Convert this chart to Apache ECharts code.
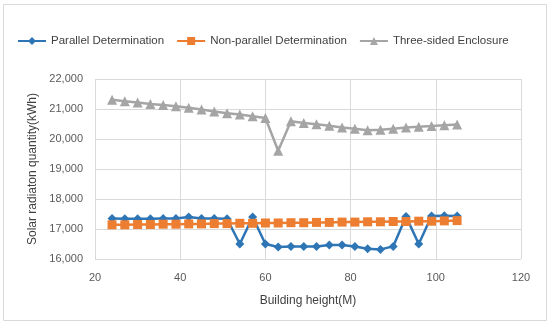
<!DOCTYPE html>
<html><head><meta charset="utf-8">
<script src="https://cdn.jsdelivr.net/npm/echarts@6/dist/echarts.min.js"></script>
<style>html,body{margin:0;padding:0;background:#fff;}#c{width:550px;height:327px;}</style>
</head><body><div id="c"></div>
<script>
const heights = [24,27,30,33,36,39,42,45,48,51,54,57,60,63,66,69,72,75,78,81,84,87,90,93,96,99,102,105];
const parallel = [17350,17340,17340,17340,17350,17350,17400,17350,17350,17340,16500,17400,16500,16400,16420,16420,16420,16470,16470,16420,16340,16320,16420,17420,16500,17430,17440,17430];
const nonParallel = [17140,17140,17150,17150,17160,17160,17170,17170,17180,17180,17190,17190,17200,17200,17210,17210,17220,17220,17230,17230,17240,17240,17250,17250,17260,17260,17270,17280];
const threeSided = [21310,21260,21220,21170,21130,21090,21040,20980,20920,20860,20820,20760,20700,19610,20590,20530,20490,20440,20380,20340,20290,20310,20340,20380,20410,20430,20460,20480];
const seriesNames = ['Parallel Determination','Non-parallel Determination','Three-sided Enclosure'];
const xTitle = 'Building height(M)';
const yTitle = 'Solar radiaton quantity(kWh)';

const font = 'Liberation Sans';
const pair = (arr) => heights.map((h,i)=>[h,arr[i]]);
const chart = echarts.init(document.getElementById('c'));
chart.setOption({
  animation:false,
  textStyle:{fontFamily:font},
  graphic:[{type:'rect',shape:{x:3.5,y:4.5,width:543,height:316},style:{fill:'none',stroke:'#d9d9d9',lineWidth:1}}],
  legend:{
    top:30, left:12, itemGap:12, itemWidth:28, itemHeight:10,
    textStyle:{fontFamily:font,fontSize:11.5,color:'#404040'},
    data:seriesNames
  },
  grid:{left:95,right:29,top:79,bottom:68},
  xAxis:{
    type:'value',min:20,max:120,interval:20,
    name:xTitle,nameLocation:'middle',nameGap:36,
    nameTextStyle:{fontFamily:font,fontSize:12,color:'#404040'},
    axisLine:{show:false},axisTick:{show:false},
    axisLabel:{fontSize:11,color:'#595959',margin:13},
    splitLine:{show:true,lineStyle:{color:'#d9d9d9',width:1}}
  },
  yAxis:{
    type:'value',min:16000,max:22000,interval:1000,
    name:yTitle,nameLocation:'middle',nameGap:50,
    nameTextStyle:{fontFamily:font,fontSize:12,color:'#404040'},
    axisLine:{show:false},axisTick:{show:false},
    axisLabel:{fontSize:11,color:'#595959',margin:12,formatter:v=>v.toLocaleString('en-US')},
    splitLine:{show:true,lineStyle:{color:'#d9d9d9',width:1}}
  },
  series:[
    {name:seriesNames[0],type:'line',data:pair(parallel),symbol:'diamond',symbolSize:9,
     itemStyle:{color:'#2e75b6'},lineStyle:{width:2.5,color:'#2e75b6'}},
    {name:seriesNames[1],type:'line',data:pair(nonParallel),symbol:'rect',symbolSize:9,
     itemStyle:{color:'#ed7d31'},lineStyle:{width:2.5,color:'#ed7d31'}},
    {name:seriesNames[2],type:'line',data:pair(threeSided),symbol:'triangle',symbolSize:10,
     itemStyle:{color:'#a5a5a5'},lineStyle:{width:2.5,color:'#a5a5a5'}}
  ]
});
</script></body></html>
